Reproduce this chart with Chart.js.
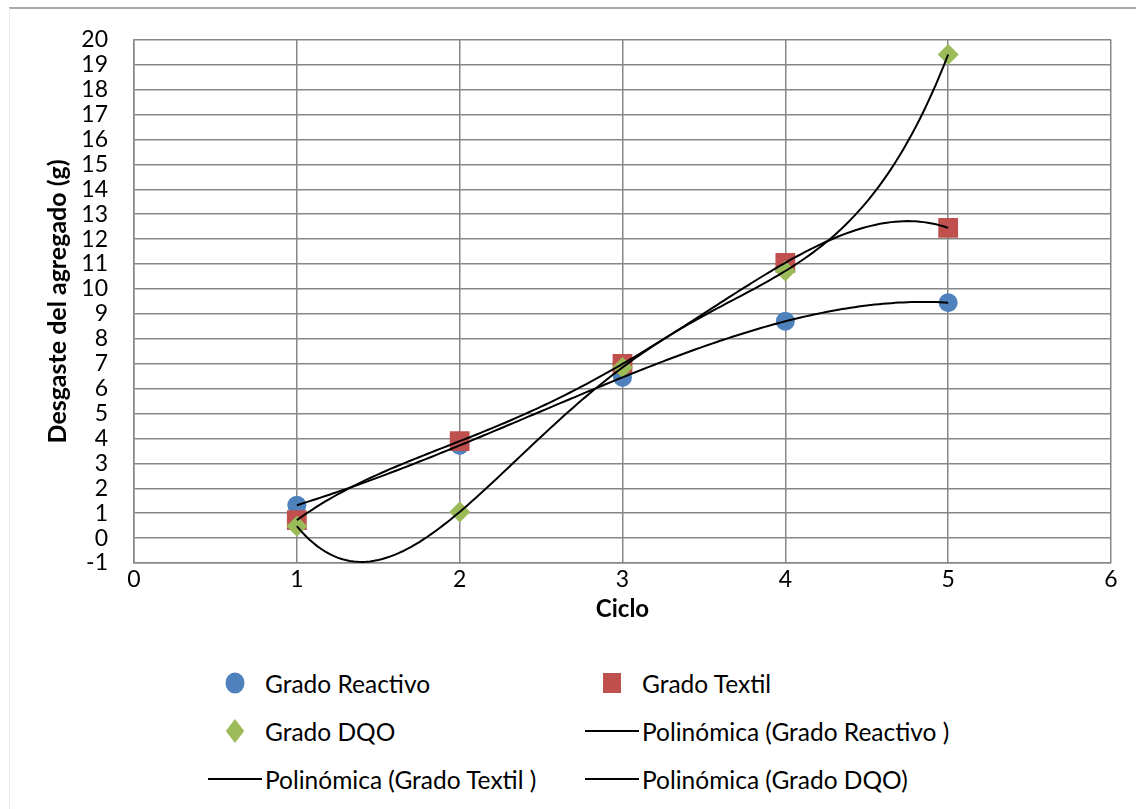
<!DOCTYPE html>
<html>
<head>
<meta charset="utf-8">
<script src="https://cdn.jsdelivr.net/npm/chart.js@4.4.0/dist/chart.umd.min.js"></script>
<style>
  body { margin: 0; background: #fff; font-family: Lato, sans-serif; }
  #wrap { position: relative; width: 1136px; height: 809px; overflow: hidden; background: #fff; }
  #frame { position: absolute; left: 9px; top: 7px; width: 1140px; height: 820px;
           border-top: 2px solid #a9a9a9; border-left: 1px solid #ececec; }
  #chart { position: absolute; left: 0; top: 0; }
  .item { position: absolute; height: 30px; display: flex; align-items: center;
          font-size: 24.5px; color: #000; white-space: nowrap; }
  .sw { width: 54px; height: 30px; margin-right: 3px; position: relative; }
  .sw span { position: absolute; left: 50%; top: 50%; transform: translate(-50%, -50%); }
</style>
</head>
<body>
<div id="wrap">
  <div id="frame"></div>
  <canvas id="chart" width="1136" height="640"></canvas>
  <div id="legend"></div>
</div>
<script>
// datos
const ciclos = [1, 2, 3, 4, 5];
const gradoReactivo = [1.32, 3.72, 6.45, 8.70, 9.45];
const gradoTextil = [0.72, 3.89, 6.99, 11.05, 12.45];
const gradoDQO = [0.48, 1.05, 6.85, 10.72, 19.41];

const seriesNames = ['Grado Reactivo', 'Grado Textil', 'Grado DQO'];
const trendNames = ['Polinómica (Grado Reactivo )', 'Polinómica (Grado Textil )', 'Polinómica (Grado DQO)'];
const seriesColors = ['#4F81BD', '#C0504D', '#9BBB59'];

const xMin = 0, xMax = 6;
const yMin = -1, yMax = 20;
const trendOrder = 4; // orden de la línea de tendencia polinómica

// ajuste por mínimos cuadrados (como la línea de tendencia de Excel)
function polyFit(xs, ys, deg) {
  const n = deg + 1;
  const A = [];
  for (let i = 0; i < n; i++) {
    A.push(new Array(n + 1).fill(0));
    for (let j = 0; j < n; j++) {
      A[i][j] = xs.reduce((s, x) => s + Math.pow(x, i + j), 0);
    }
    A[i][n] = xs.reduce((s, x, k) => s + ys[k] * Math.pow(x, i), 0);
  }
  for (let c = 0; c < n; c++) {
    let p = c;
    for (let r = c + 1; r < n; r++) if (Math.abs(A[r][c]) > Math.abs(A[p][c])) p = r;
    [A[c], A[p]] = [A[p], A[c]];
    for (let r = 0; r < n; r++) {
      if (r === c) continue;
      const f = A[r][c] / A[c][c];
      for (let k = c; k <= n; k++) A[r][k] -= f * A[c][k];
    }
  }
  return A.map((row, i) => row[n] / row[i]);
}

function trendPoints(ys) {
  const coef = polyFit(ciclos, ys, trendOrder);
  const pts = [];
  const x0 = ciclos[0], x1 = ciclos[ciclos.length - 1];
  for (let i = 0; i <= 160; i++) {
    const x = x0 + (x1 - x0) * i / 160;
    pts.push({ x, y: coef.reduce((s, c, k) => s + c * Math.pow(x, k), 0) });
  }
  return pts;
}

const allSeries = [gradoReactivo, gradoTextil, gradoDQO];
const shapes = ['circle', 'rect', 'rectRot'];
const radii = [9.5, 14, 10.5];

const datasets = [];
allSeries.forEach((vals, i) => {
  datasets.push({
    label: seriesNames[i],
    data: ciclos.map((x, k) => ({ x, y: vals[k] })),
    showLine: false,
    pointStyle: shapes[i],
    pointRadius: radii[i],
    pointHoverRadius: radii[i],
    backgroundColor: seriesColors[i],
    borderColor: seriesColors[i],
    borderWidth: 0,
    order: 3 - i
  });
});
allSeries.forEach((vals, i) => {
  datasets.push({
    label: trendNames[i],
    type: 'line',
    data: trendPoints(vals),
    borderColor: '#000',
    borderWidth: 2,
    pointRadius: 0,
    tension: 0,
    fill: false,
    order: 0
  });
});

const gridColor = '#878787';
const fontFam = 'Lato, sans-serif';

new Chart(document.getElementById('chart'), {
  type: 'scatter',
  data: { datasets },
  options: {
    responsive: false,
    animation: false,
    events: [],
    layout: { padding: { left: 43, top: 38, right: 25, bottom: 0 } },
    plugins: { legend: { display: false }, tooltip: { enabled: false } },
    scales: {
      x: {
        type: 'linear', min: xMin, max: xMax,
        afterFit: s => { s.height = 77; },
        ticks: { stepSize: 1, autoSkip: false, maxRotation: 0, color: '#000', padding: 3,
                 font: { family: fontFam, size: 23 } },
        grid: { color: gridColor, lineWidth: 1.5, drawTicks: false },
        border: { color: gridColor, width: 1.5 },
        title: { display: true, text: 'Ciclo', color: '#000',
                 font: { family: fontFam, size: 24, weight: 'bold' }, padding: { top: 0, bottom: 16 } }
      },
      y: {
        type: 'linear', min: yMin, max: yMax,
        afterFit: s => { s.width = 91; },
        ticks: { stepSize: 1, autoSkip: false, color: '#000', padding: 26,
                 font: { family: fontFam, size: 23 } },
        grid: { color: gridColor, lineWidth: 1.5, drawTicks: false },
        border: { color: gridColor, width: 1.5 },
        title: { display: true, text: 'Desgaste del agregado (g)', color: '#000',
                 font: { family: fontFam, size: 25, weight: 'bold' }, padding: { top: 0, bottom: 0 } }
      }
    }
  }
});

// leyenda en dos columnas
const legendRows = [683, 731, 779];
const legendCols = [208, 585];
const legendEntries = [
  { text: seriesNames[0], kind: 'circle', color: seriesColors[0] },
  { text: seriesNames[1], kind: 'square', color: seriesColors[1] },
  { text: seriesNames[2], kind: 'diamond', color: seriesColors[2] },
  { text: trendNames[0], kind: 'line' },
  { text: trendNames[1], kind: 'line' },
  { text: trendNames[2], kind: 'line' }
];
const legend = document.getElementById('legend');
legendEntries.forEach((e, i) => {
  const item = document.createElement('div');
  item.className = 'item';
  item.style.left = legendCols[i % 2] + 'px';
  item.style.top = (legendRows[Math.floor(i / 2)] - 15) + 'px';
  const sw = document.createElement('div');
  sw.className = 'sw';
  const m = document.createElement('span');
  if (e.kind === 'circle') m.style.cssText = `width:19px;height:21px;border-radius:50%;background:${e.color}`;
  if (e.kind === 'square') m.style.cssText = `width:18px;height:20px;background:${e.color}`;
  if (e.kind === 'diamond') m.style.cssText = `width:13px;height:13px;background:${e.color};transform:translate(-50%,-50%) scaleY(1.3) rotate(45deg)`;
  if (e.kind === 'line') m.style.cssText = 'width:54px;height:2px;background:#000';
  sw.appendChild(m);
  item.appendChild(sw);
  const t = document.createElement('span');
  t.textContent = e.text;
  item.appendChild(t);
  legend.appendChild(item);
});
</script>
</body>
</html>
